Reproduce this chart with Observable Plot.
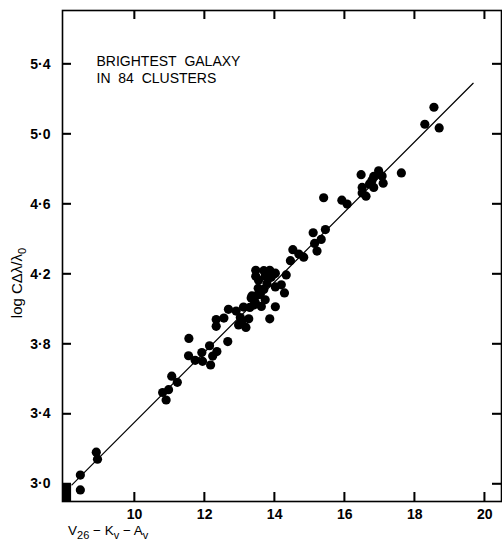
<!DOCTYPE html>
<html>
<head>
<meta charset="utf-8">
<script src="https://cdn.jsdelivr.net/npm/d3@7"></script>
<script src="https://cdn.jsdelivr.net/npm/@observablehq/plot@0.6"></script>
<style>
  html, body { margin: 0; padding: 0; background: #fff; }
  #chart { width: 502px; height: 542px; }
</style>
</head>
<body>
<div id="chart"></div>
<script>
// ---- data ----
const magnitude = [
  8.45, 8.45, 8.905, 8.94, 10.80, 10.90, 10.97, 11.06, 11.22, 11.55,
  11.54, 11.73, 11.92, 11.94, 12.14, 12.17, 12.23, 12.35, 12.33, 12.33,
  12.55, 12.66, 12.68, 12.90, 12.97, 13.07, 13.11, 13.18, 13.26, 13.29,
  13.33, 13.40, 13.50, 13.62, 13.73, 13.46, 13.46, 13.54, 13.53, 13.69,
  13.69, 13.78, 13.86, 13.90, 13.86, 14.02, 14.02, 14.02, 14.19, 14.28,
  14.33, 14.45, 14.52, 14.69, 14.83, 15.10, 15.14, 15.21, 15.33, 15.45,
  15.40, 15.92, 16.07, 16.47, 16.50, 16.50, 16.61, 16.71, 16.83, 16.83,
  16.97, 17.07, 17.10, 17.62, 18.29, 18.55, 18.70, 13.97, 13.73, 13.59,
  13.35, 13.45, 13.02, 16.78
];
const logVelocity = [
  3.051, 2.966, 3.182, 3.142, 3.523, 3.480, 3.539, 3.616, 3.581, 3.832,
  3.733, 3.707, 3.751, 3.701, 3.790, 3.680, 3.731, 3.757, 3.901, 3.940,
  3.948, 3.814, 3.998, 3.988, 3.909, 3.934, 4.011, 3.895, 3.944, 4.009,
  4.063, 4.023, 4.079, 4.015, 4.053, 4.221, 4.187, 4.165, 4.118, 4.219,
  4.112, 4.146, 4.221, 4.181, 3.944, 4.205, 4.126, 4.013, 4.138, 4.092,
  4.195, 4.276, 4.339, 4.314, 4.296, 4.436, 4.375, 4.331, 4.398, 4.454,
  4.636, 4.622, 4.600, 4.768, 4.695, 4.663, 4.645, 4.715, 4.695, 4.758,
  4.790, 4.760, 4.719, 4.778, 5.056, 5.153, 5.035, 4.199, 4.189, 4.084,
  4.075, 4.036, 3.951, 4.735
];
// fitted line endpoints
const fitX = [8.21, 19.67];
const fitY = [2.995, 5.29];
// dark block in lower-left corner
const blockX = [7.94, 8.2];
const blockY = [2.9, 3.0];

const xTicks = [10, 12, 14, 16, 18, 20];
const yTicks = [3.0, 3.4, 3.8, 4.2, 4.6, 5.0, 5.4];
const xDomain = [7.94, 20.48];
const yDomain = [2.9, 5.706];
const annotation = ["BRIGHTEST\u00A0\u00A0GALAXY", "IN\u00A0\u00A084\u00A0\u00A0CLUSTERS"];

const points = magnitude.map((m, i) => ({x: m, y: logVelocity[i]}));
const fitLine = fitX.map((x, i) => ({x, y: fitY[i]}));
const block = [{x1: blockX[0], x2: blockX[1], y1: blockY[0], y2: blockY[1]}];
const fmtY = d => d.toFixed(1).replace(".", "\u00B7");
const FONT = "'Liberation Sans', Arial, sans-serif";

const W = 502, H = 542, ML = 62, MR = 1, MT = 10, MB = 41;
const innerW = W - ML - MR, innerH = H - MT - MB;
const TICK = 9;
// tick length expressed in data units of each scale
const tickDY = TICK * (yDomain[1] - yDomain[0]) / innerH;
const tickDX = TICK * (xDomain[1] - xDomain[0]) / innerW;

const plot = Plot.plot({
  width: W,
  height: H,
  marginLeft: ML,
  marginRight: MR,
  marginTop: MT,
  marginBottom: MB,
  style: {fontFamily: FONT, fontSize: "14px", color: "black", background: "white"},
  x: {domain: xDomain},
  y: {domain: yDomain},
  marks: [
    Plot.rect(block, {x1: "x1", x2: "x2", y1: "y1", y2: "y2", fill: "black"}),
    Plot.line(fitLine, {x: "x", y: "y", stroke: "black", strokeWidth: 1.2}),
    Plot.dot(points, {x: "x", y: "y", r: 4.6, fill: "black", stroke: "none"}),
    // inward ticks on all four sides
    Plot.ruleX(xTicks, {x: d => d, y1: yDomain[0], y2: yDomain[0] + tickDY, stroke: "black", strokeWidth: 1.5}),
    Plot.ruleX(xTicks, {x: d => d, y1: yDomain[1], y2: yDomain[1] - tickDY, stroke: "black", strokeWidth: 1.5}),
    Plot.ruleY(yTicks, {y: d => d, x1: xDomain[0], x2: xDomain[0] + tickDX, stroke: "black", strokeWidth: 1.5}),
    Plot.ruleY(yTicks, {y: d => d, x1: xDomain[1], x2: xDomain[1] - tickDX, stroke: "black", strokeWidth: 1.5}),
    // tick labels
    Plot.axisX(xTicks, {anchor: "bottom", tickSize: 0, tickPadding: 8, tickFormat: d => String(d), label: null, fontWeight: "bold", fontSize: 14}),
    Plot.axisY(yTicks, {anchor: "left", tickSize: 0, tickPadding: 12, tickFormat: fmtY, label: null, fontWeight: "bold", fontSize: 14}),
    Plot.frame({stroke: "black", strokeWidth: 1.6}),
    Plot.text([annotation.join("\n")], {frameAnchor: "top-left", dx: 34, dy: 44, lineAnchor: "top", textAnchor: "start", fontSize: 14, lineHeight: 1.2, fill: "black"})
  ]
});

document.getElementById("chart").appendChild(plot);

const svg = d3.select(plot);

// reinforce the inward ticks using Plot's own scales
const sx = plot.scale("x"), sy = plot.scale("y");
const tg = svg.append("g").attr("stroke", "black").attr("stroke-width", 1.5);
xTicks.forEach(t => {
  const px = sx.apply(t);
  tg.append("line").attr("x1", px).attr("x2", px).attr("y1", H - MB).attr("y2", H - MB - TICK);
  tg.append("line").attr("x1", px).attr("x2", px).attr("y1", MT).attr("y2", MT + TICK);
});
yTicks.forEach(t => {
  const py = sy.apply(t);
  tg.append("line").attr("y1", py).attr("y2", py).attr("x1", ML).attr("x2", ML + TICK);
  tg.append("line").attr("y1", py).attr("y2", py).attr("x1", W - MR).attr("x2", W - MR - TICK);
});

// x axis title with subscripts
const xt = svg.append("text")
  .attr("x", 68).attr("y", 535)
  .attr("text-anchor", "start")
  .attr("font-size", 13.5)
  .attr("fill", "black")
  .attr("font-family", FONT);
xt.append("tspan").text("V");
xt.append("tspan").attr("dy", 4).attr("font-size", 11).text("26");
xt.append("tspan").attr("dy", -4).text(" \u2212 K");
xt.append("tspan").attr("dy", 4).attr("font-size", 11).text("v");
xt.append("tspan").attr("dy", -4).text(" \u2212 A");
xt.append("tspan").attr("dy", 4).attr("font-size", 11).text("v");

// y axis title
const yt = svg.append("text")
  .attr("transform", "translate(22,283) rotate(-90)")
  .attr("text-anchor", "middle")
  .attr("font-size", 15)
  .attr("fill", "black")
  .attr("font-family", FONT);
yt.append("tspan").text("log C\u0394\u03BB/\u03BB");
yt.append("tspan").attr("dy", 4).attr("font-size", 11).text("0");
</script>
</body>
</html>
